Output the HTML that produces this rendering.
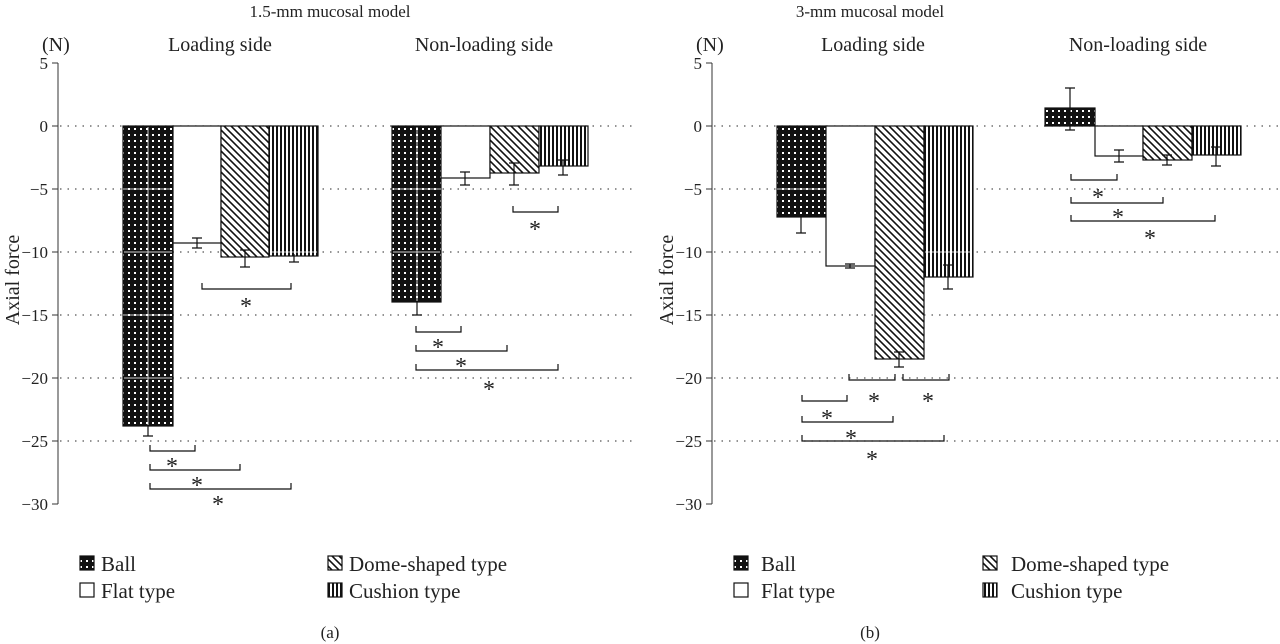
<!DOCTYPE html>
<html><head><meta charset="utf-8"><style>body{margin:0;background:#fff}svg{display:block}text{font-family:"Liberation Serif",serif;fill:#222}</style></head><body>
<svg width="1280" height="644" viewBox="0 0 1280 644" xmlns="http://www.w3.org/2000/svg">
<defs>
<pattern id="dots" width="6" height="6" patternUnits="userSpaceOnUse"><rect width="6" height="6" fill="#111"/><rect x="2" y="2" width="2" height="2" fill="#fff"/></pattern>
<pattern id="diag" width="7" height="7" patternUnits="userSpaceOnUse"><rect width="7" height="7" fill="#fff"/><path d="M-1,-1L8,8M-1,6L1,8M6,-1L8,1" stroke="#111" stroke-width="1.6"/></pattern>
<pattern id="vert" width="4" height="4" patternUnits="userSpaceOnUse"><rect width="4" height="4" fill="#fff"/><rect x="0" width="2" height="4" fill="#111"/></pattern>
</defs>
<g font-size="17">
<text x="330" y="17" text-anchor="middle">1.5-mm mucosal model</text>
<text x="870" y="17" text-anchor="middle">3-mm mucosal model</text>
</g>
<g font-size="20">
<text x="42" y="51">(N)</text><text x="220" y="51" text-anchor="middle">Loading side</text><text x="484" y="51" text-anchor="middle">Non-loading side</text>
<text x="696" y="51">(N)</text><text x="873" y="51" text-anchor="middle">Loading side</text><text x="1138" y="51" text-anchor="middle">Non-loading side</text>
<text transform="translate(19,280) rotate(-90)" text-anchor="middle">Axial force</text>
<text transform="translate(673,280) rotate(-90)" text-anchor="middle">Axial force</text>
</g>
<g font-size="17" text-anchor="end">
<text x="48" y="69">5</text><text x="48" y="132">0</text><text x="48" y="195">−5</text><text x="48" y="258">−10</text><text x="48" y="321">−15</text><text x="48" y="384">−20</text><text x="48" y="447">−25</text><text x="48" y="510">−30</text>
<text x="702" y="69">5</text><text x="702" y="132">0</text><text x="702" y="195">−5</text><text x="702" y="258">−10</text><text x="702" y="321">−15</text><text x="702" y="384">−20</text><text x="702" y="447">−25</text><text x="702" y="510">−30</text>
</g>
<g stroke="#333" fill="none" stroke-width="1">
<path d="M58,63V504M52,63H58M52,126H58M52,189H58M52,252H58M52,315H58M52,378H58M52,441H58M52,504H58"/>
<path d="M712,63V504M706,63H712M706,126H712M706,189H712M706,252H712M706,315H712M706,378H712M706,441H712M706,504H712"/>
</g>
<g stroke="#555" stroke-dasharray="1.5 6" stroke-width="1.2">
<path d="M60,126H634M60,189H634M60,252H634M60,315H634M60,378H634M60,441H634"/>
<path d="M714,126H1280M714,189H1280M714,252H1280M714,315H1280M714,378H1280M714,441H1280"/>
</g>
<g stroke="#111" stroke-width="1.2">
<rect x="123" y="126" width="50" height="300" fill="url(#dots)"/>
<rect x="173" y="126" width="48" height="117" fill="#fff"/>
<rect x="221" y="126" width="48" height="131" fill="url(#diag)"/>
<rect x="269" y="126" width="49" height="130" fill="url(#vert)"/>
<rect x="392" y="126" width="49" height="176" fill="url(#dots)"/>
<rect x="441" y="126" width="49" height="52" fill="#fff"/>
<rect x="490" y="126" width="49" height="47" fill="url(#diag)"/>
<rect x="539" y="126" width="49" height="40" fill="url(#vert)"/>
<rect x="777" y="126" width="49" height="91" fill="url(#dots)"/>
<rect x="826" y="126" width="49" height="140" fill="#fff"/>
<rect x="875" y="126" width="49" height="233" fill="url(#diag)"/>
<rect x="924" y="126" width="49" height="151" fill="url(#vert)"/>
<rect x="1045" y="108" width="50" height="18" fill="url(#dots)"/>
<rect x="1095" y="126" width="48" height="30" fill="#fff"/>
<rect x="1143" y="126" width="49" height="34" fill="url(#diag)"/>
<rect x="1192" y="126" width="49" height="29" fill="url(#vert)"/>
</g>
<g stroke="#fff" stroke-width="1" opacity="0.8">
<path d="M124,189H172M124,252H172M124,315H172M124,378H172M270,252H317M393,189H440M393,252H440M778,189H825M925,252H972M148,127V425M417,127V301"/>
</g>
<g stroke="#111" stroke-width="1.2" fill="none">
<path d="M148,426V436M143,436H153M197,238V248M192,238H202M192,248H202M245,250V267M240,250H250M240,267H250M294,254V262M289,262H299"/>
<path d="M417,302V315M412,315H422M465,172V185M460,172H470M460,185H470M514,163V185M509,163H519M509,185H519M563,160V175M558,160H568M558,175H568"/>
<path d="M801,217V233M796,233H806M850,264V268M845,264H855M845,268H855M899,352V367M894,352H904M894,367H904M948,265V289M943,265H953M943,289H953"/>
<path d="M1070,88V130M1065,88H1075M1065,130H1075M1119,150V162M1114,150H1124M1114,162H1124M1167,155V165M1162,155H1172M1162,165H1172M1216,147V166M1211,147H1221M1211,166H1221"/>
<path d="M150,445V451H195V445M150,464V470H240V464M150,483V489H291V483M202,283V289H291V283"/>
<path d="M416,326V332H461V326M416,345V351H507V345M416,364V370H558V364M513,206V212H558V206"/>
<path d="M802,395V401H847V395M802,416V422H893V416M802,435V441H944V435M849,374V380H895V374M903,374V380H949V374"/>
<path d="M1071,174V180H1117V174M1071,197V203H1163V197M1071,215V221H1215V215"/>
</g>
<g font-size="24" text-anchor="middle">
<text x="172" y="474">*</text><text x="197" y="493">*</text><text x="218" y="512">*</text><text x="246" y="314">*</text>
<text x="438" y="355">*</text><text x="461" y="374">*</text><text x="489" y="397">*</text><text x="535" y="237">*</text>
<text x="827" y="426">*</text><text x="851" y="446">*</text><text x="872" y="467">*</text><text x="874" y="409">*</text><text x="928" y="409">*</text>
<text x="1098" y="205">*</text><text x="1118" y="225">*</text><text x="1150" y="246">*</text>
</g>
<g stroke="#111" stroke-width="1.2">
<rect x="80" y="556" width="14" height="14" fill="url(#dots)"/><rect x="80" y="583" width="14" height="14" fill="#fff"/>
<rect x="328" y="556" width="14" height="14" fill="url(#diag)"/><rect x="328" y="583" width="14" height="14" fill="url(#vert)"/>
<rect x="734" y="556" width="14" height="14" fill="url(#dots)"/><rect x="734" y="583" width="14" height="14" fill="#fff"/>
<rect x="983" y="556" width="14" height="14" fill="url(#diag)"/><rect x="983" y="583" width="14" height="14" fill="url(#vert)"/>
</g>
<g font-size="21">
<text x="101" y="571">Ball</text><text x="101" y="598">Flat type</text><text x="349" y="571">Dome-shaped type</text><text x="349" y="598">Cushion type</text>
<text x="761" y="571">Ball</text><text x="761" y="598">Flat type</text><text x="1011" y="571">Dome-shaped type</text><text x="1011" y="598">Cushion type</text>
<text x="330" y="638" text-anchor="middle" font-size="17">(a)</text><text x="870" y="638" text-anchor="middle" font-size="17">(b)</text>
</g>
</svg>
</body></html>
